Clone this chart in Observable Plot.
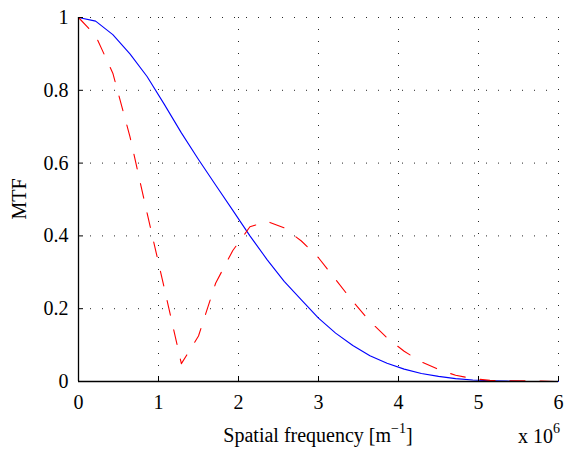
<!DOCTYPE html>
<html>
<head>
<meta charset="utf-8">
<script src="https://cdn.jsdelivr.net/npm/d3@7"></script>
<script src="https://cdn.jsdelivr.net/npm/@observablehq/plot@0.6"></script>
<style>
  html, body { margin: 0; padding: 0; background: #fff; }
  #chart svg { display: block; }
</style>
</head>
<body>
<div id="chart"></div>
<script>
// Spatial frequency samples (x 10^6 m^-1)
const freq = [0, 0.214, 0.429, 0.643, 0.857, 1.071, 1.286, 1.5, 1.714, 1.929, 2.143, 2.357, 2.571, 2.786, 3.0,
              3.214, 3.429, 3.643, 3.857, 4.071, 4.286, 4.5, 4.714, 4.929, 5.143, 5.357, 5.571, 5.786, 6.0];
// Solid blue MTF
const mtfBlue = [1, 0.99, 0.953, 0.90, 0.838, 0.762, 0.683, 0.61, 0.54, 0.47, 0.40, 0.335, 0.275, 0.224, 0.174,
                 0.133, 0.099, 0.071, 0.05, 0.034, 0.022, 0.014, 0.008, 0.004, 0.002, 0.001, 0, 0, 0];
// Dashed red MTF
const mtfRed = [1, 0.95, 0.847, 0.673, 0.463, 0.258, 0.049, 0.125, 0.27, 0.36, 0.425, 0.44, 0.422, 0.386, 0.34,
                0.28, 0.22, 0.165, 0.12, 0.083, 0.054, 0.033, 0.017, 0.008, 0.003, 0.002, 0.002, 0.001, 0];

const xTicks = [0, 1, 2, 3, 4, 5, 6];
const yTicks = [0, 0.2, 0.4, 0.6, 0.8, 1];
const xLabel = "Spatial frequency [m";
const xLabelSup = "\u22121";
const yLabel = "MTF";
const expBase = "x 10";
const expSup = "6";

const data = freq.map((f, i) => ({f, blue: mtfBlue[i], red: mtfRed[i]}));

const W = 565, H = 449;
const plot = Plot.plot({
  width: W,
  height: H,
  marginLeft: 78,
  marginRight: 7,
  marginTop: 17,
  marginBottom: 68,
  style: {fontFamily: "'Liberation Serif', 'Times New Roman', serif", fontSize: "20px", background: "#fff", color: "#000"},
  x: {domain: [0, 6]},
  y: {domain: [0, 1]},
  marks: [
    Plot.gridX(xTicks, {stroke: "#000", strokeOpacity: 0.85, strokeDasharray: "1,11"}),
    Plot.gridY(yTicks, {stroke: "#000", strokeOpacity: 0.85, strokeDasharray: "1,11"}),
    Plot.line(data, {x: "f", y: "blue", stroke: "#0000ff", strokeWidth: 1.1}),
    Plot.line(data, {x: "f", y: "red", stroke: "#ff0000", strokeWidth: 1.1, strokeDasharray: "15,15"}),
    Plot.ruleX([0], {stroke: "#000", strokeWidth: 1.3}),
    Plot.ruleY([0], {stroke: "#000", strokeWidth: 1.3}),
    Plot.axisX({ticks: xTicks, tickSize: -5, tickPadding: 18, tickFormat: d => String(d), label: null, fontSize: 20}),
    Plot.axisY({ticks: yTicks, tickSize: -5, tickPadding: 15, tickFormat: d => String(d), label: null, fontSize: 20})
  ]
});

document.getElementById("chart").appendChild(plot);

const svg = d3.select(plot);
const xs = plot.scale("x");
const ys = plot.scale("y");
const cx = (xs.range[0] + xs.range[1]) / 2;
const cy = (ys.range[0] + ys.range[1]) / 2;

const tl = svg.append("text")
  .attr("x", cx).attr("y", 442)
  .attr("text-anchor", "middle")
  .attr("font-size", 20)
  .attr("fill", "#000");
tl.append("tspan").text(xLabel);
tl.append("tspan").attr("dy", -9).attr("font-size", 14).text(xLabelSup);
tl.append("tspan").attr("dy", 9).text("]");

const te = svg.append("text")
  .attr("x", 560).attr("y", 443)
  .attr("text-anchor", "end")
  .attr("font-size", 20)
  .attr("fill", "#000");
te.append("tspan").text(expBase);
te.append("tspan").attr("dy", -10).attr("font-size", 14).text(expSup);

svg.append("text")
  .attr("transform", `translate(26,${cy}) rotate(-90)`)
  .attr("text-anchor", "middle")
  .attr("font-size", 20)
  .attr("fill", "#000")
  .text(yLabel);
</script>
</body>
</html>
